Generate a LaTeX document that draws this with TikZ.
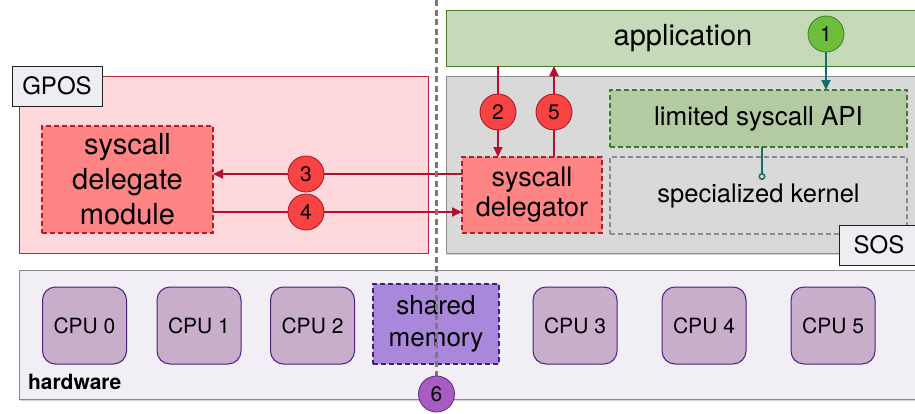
\documentclass[tikz,border=0pt]{standalone}
\usepackage{fontspec}
\setmainfont{TeX Gyre Heros}
\usetikzlibrary{arrows.meta,shadows}
\definecolor{appf}{HTML}{C6D9B9}
\definecolor{appb}{HTML}{467A2B}
\definecolor{apif}{HTML}{B3CAA3}
\definecolor{apib}{HTML}{3F7A2A}
\definecolor{sosf}{HTML}{D9D9D9}
\definecolor{sosb}{HTML}{8C8C8C}
\definecolor{gposf}{HTML}{FFD8DC}
\definecolor{gposb}{HTML}{B22A3B}
\definecolor{modf}{HTML}{FF8585}
\definecolor{modb}{HTML}{B01E30}
\definecolor{credf}{HTML}{F84343}
\definecolor{credb}{HTML}{A01828}
\definecolor{arrred}{HTML}{B3122E}
\definecolor{teal}{HTML}{1B6B6B}
\definecolor{cgreenf}{HTML}{6CBE3B}
\definecolor{cgreenb}{HTML}{3E7E25}
\definecolor{hwf}{HTML}{F1EFF5}
\definecolor{hwb}{HTML}{888888}
\definecolor{cpuf}{HTML}{C9AECC}
\definecolor{cpub}{HTML}{4B2080}
\definecolor{shmf}{HTML}{A987DA}
\definecolor{shmb}{HTML}{45207A}
\definecolor{cpurf}{HTML}{A95BC4}
\definecolor{cpurb}{HTML}{5B2775}
\definecolor{tagf}{HTML}{EEEDF2}
\definecolor{divc}{HTML}{7A7A7A}
\begin{document}
\begin{tikzpicture}[x=1pt,y=-1pt,
  every node/.style={inner sep=0pt,outer sep=0pt},
  regbox/.style={draw,line width=1pt},
  tagbox/.style={draw=black!88,fill=tagf,line width=1pt,minimum height=40pt,font=\fontsize{24}{28}\selectfont},
  dbox/.style={draw,line width=1.2pt,dash pattern=on 5pt off 3pt,align=center},
  cpubox/.style={draw=cpub,fill=cpuf,line width=1pt,rounded corners=13pt,minimum width=84pt,minimum height=77pt,font=\fontsize{21}{25}\selectfont},
  numc/.style={circle,minimum size=36pt,line width=0.8pt,font=\fontsize{21}{21}\selectfont},
  redarr/.style={draw=arrred,line width=1.8pt,-{Triangle[length=10pt,width=9pt]}},
  tealarr/.style={draw=teal,line width=1.8pt,-{Triangle[length=10pt,width=9pt]}},
  shad/.style={drop shadow={shadow xshift=1pt,shadow yshift=-2pt,opacity=0.35}},
  divider/.style={draw=divc,line width=3.5pt,dash pattern=on 6pt off 3.5pt}
]
\path[use as bounding box] (0,0) rectangle (915,413);
\clip (0,0) rectangle (915,413);

% region boxes
\node[regbox,draw=gposb,fill=gposf,minimum width=409pt,minimum height=177pt] (gpos) at (223.5,164.5) {};
\node[regbox,draw=sosb,fill=sosf,minimum width=479pt,minimum height=177pt,shad] (sos) at (685.5,164.5) {};
\node[regbox,draw=appb,fill=appf,minimum width=474pt,minimum height=56pt,font=\fontsize{29}{34}\selectfont] (app) at (683,38) {application};
\node[regbox,draw=hwb,fill=hwf,minimum width=906pt,minimum height=129pt,shad] (hw) at (472,334.5) {};

% inner boxes
\node[dbox,draw=modb,fill=modf,minimum width=171pt,minimum height=107pt,font=\fontsize{29}{35}\selectfont] (mod) at (127.5,179.5) {syscall\\delegate\\module};
\node[dbox,draw=modb,fill=modf,minimum width=140pt,minimum height=76pt,font=\fontsize{27}{30}\selectfont] (del) at (532,195) {syscall\\delegator};
\node[dbox,draw=apib,fill=apif,minimum width=297pt,minimum height=57pt,font=\fontsize{26}{30}\selectfont] (api) at (758.5,118.5) {limited syscall API};
\node[dbox,draw=sosb,fill=sosf,minimum width=297pt,minimum height=77pt,font=\fontsize{25.5}{30}\selectfont] (ker) at (758.5,195.5) {specialized kernel};

% hardware
\node[cpubox] (cpu0) at (84.5,325.5) {CPU 0};
\node[cpubox] (cpu1) at (199,325.5) {CPU 1};
\node[cpubox] (cpu2) at (312.5,325.5) {CPU 2};
\node[cpubox] (cpu3) at (575,325.5) {CPU 3};
\node[cpubox] (cpu4) at (704,325.5) {CPU 4};
\node[cpubox] (cpu5) at (833,325.5) {CPU 5};
\node[dbox,draw=shmb,fill=shmf,minimum width=126pt,minimum height=80pt,font=\fontsize{26}{31.5}\selectfont] (shm) at (436,324) {shared\\memory};
\node[anchor=base west,font=\fontsize{21}{25}\selectfont\bfseries] (hwl) at (28,389) {hardware};

% number circle positions
\coordinate (c1) at (826,34);
\coordinate (c2) at (498,112);
\coordinate (c5) at (554,112);
\coordinate (c3) at (306,174);
\coordinate (c4) at (306,212);
\coordinate (c6) at (436.5,394);

% connectors
\path[redarr] (c2 |- app.south) -- (c2 |- del.north);
\path[redarr] (c5 |- del.north) -- (c5 |- app.south);
\path[redarr] (del.west |- c3) -- (mod.east |- c3);
\path[redarr] (mod.east |- c4) -- (del.west |- c4);
\node[numc,fill=cgreenf,draw=cgreenb] (n1) at (c1) {1};
\path[tealarr] (n1.south) -- (n1 |- api.north);
\coordinate (apib) at ([xshift=3.5pt]api.south);
\coordinate (kerdot) at ([yshift=-33pt]apib);
\draw[teal,line width=1.8pt,-{Circle[open,length=7pt,width=7pt,line width=1.5pt]}] (apib) -- (kerdot);

% circles on top of lines
\node[numc,fill=credf,draw=credb] (n2) at (c2) {2};
\node[numc,fill=credf,draw=credb] (n5) at (c5) {5};
\node[numc,fill=credf,draw=credb] (n3) at (c3) {3};
\node[numc,fill=credf,draw=credb] (n4) at (c4) {4};

% divider
\path[divider] (436.5,0) -- ([yshift=18pt]c6);
\node[numc,fill=cpurf,draw=cpurb] (n6) at (c6) {6};

% tags
\node[tagbox,minimum width=90pt] (gposl) at (57,86) {GPOS};
\node[tagbox,minimum width=80pt] (sosl) at (879,245) {SOS};
\end{tikzpicture}
\end{document}
